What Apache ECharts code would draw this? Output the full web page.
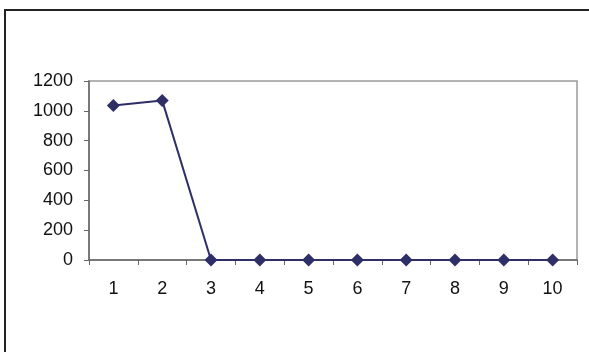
<!DOCTYPE html>
<html><head><meta charset="utf-8">
<script src="https://cdn.jsdelivr.net/npm/echarts@6/dist/echarts.min.js"></script>
<style>html,body{margin:0;padding:0;background:#fff}#c{width:589px;height:352px}</style>
</head><body><div id="c"></div>
<script>
var categories = ['1','2','3','4','5','6','7','8','9','10'];
var values = [1035, 1070, 0, 0, 0, 0, 0, 0, 0, 0];
var yTicks = {min: 0, max: 1200, interval: 200};

var chart = echarts.init(document.getElementById('c'), null, {renderer: 'canvas'});
chart.setOption({
  animation: false,
  backgroundColor: '#fff',
  graphic: [
    {type: 'rect', shape: {x: 4, y: 9, width: 2, height: 343}, style: {fill: '#222'}},
    {type: 'rect', shape: {x: 4, y: 9, width: 585, height: 2}, style: {fill: '#222'}}
  ],
  grid: {left: 89, right: 12, top: 81, bottom: 92, show: true, borderColor: '#9a9a9a', borderWidth: 1.5, backgroundColor: 'transparent'},
  xAxis: {
    type: 'category', data: categories, boundaryGap: true,
    axisLine: {lineStyle: {color: '#666', width: 1.5}},
    axisTick: {show: true, inside: false, length: 5, alignWithLabel: false, lineStyle: {color: '#666'}},
    axisLabel: {color: '#111', fontFamily: 'Liberation Sans, Arial', fontSize: 18, margin: 20},
    splitLine: {show: false}
  },
  yAxis: {
    type: 'value', min: yTicks.min, max: yTicks.max, interval: yTicks.interval,
    axisLine: {show: true, lineStyle: {color: '#666', width: 1.5}},
    axisTick: {show: true, inside: false, length: 5, lineStyle: {color: '#666'}},
    axisLabel: {color: '#111', fontFamily: 'Liberation Sans, Arial', fontSize: 18, margin: 16,
      formatter: function (v) { return String(v); }},
    splitLine: {show: false}
  },
  series: [{
    type: 'line', data: values,
    symbol: 'diamond', symbolSize: 13,
    lineStyle: {color: '#2f2f68', width: 2},
    itemStyle: {color: '#2f2f68'}
  }]
});
</script></body></html>
